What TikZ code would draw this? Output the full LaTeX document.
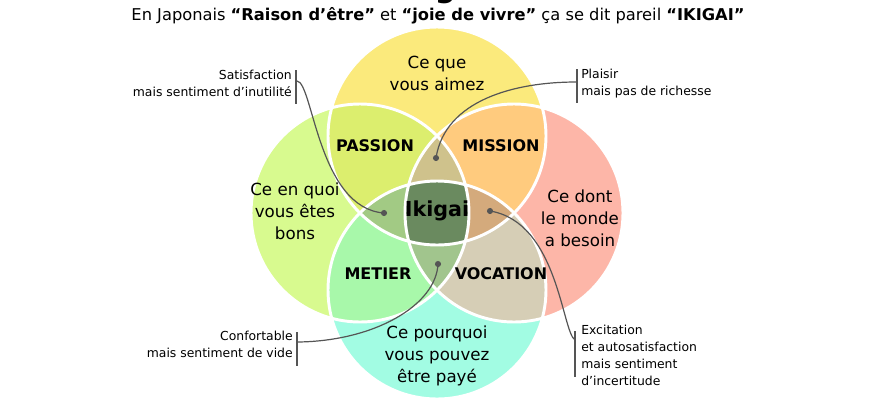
\documentclass[tikz,border=0pt]{standalone}
\usepackage{fontspec}
\setmainfont{DejaVu Sans}
\definecolor{cTop}{HTML}{FBEA7C}
\definecolor{cLeft}{HTML}{D8FA8F}
\definecolor{cRight}{HTML}{FDB6A8}
\definecolor{cBot}{HTML}{A2FCE3}
\definecolor{cPassion}{HTML}{DCEE6E}
\definecolor{cMission}{HTML}{FFCB7E}
\definecolor{cMetier}{HTML}{A8F8AA}
\definecolor{cVocation}{HTML}{D6CEB6}
\definecolor{cTLR}{HTML}{CFC28C}
\definecolor{cTLB}{HTML}{A2CA84}
\definecolor{cTRB}{HTML}{D4AA7C}
\definecolor{cLRB}{HTML}{A1C58D}
\definecolor{cIkigai}{HTML}{6A8A5F}
\definecolor{cLine}{HTML}{555555}
\begin{document}
\begin{tikzpicture}[x=0.75pt,y=-0.75pt,
  bigtxt/.style={font=\fontsize{12.5}{16.5}\selectfont,align=center,inner sep=0pt},
  regtxt/.style={font=\fontsize{12}{14}\selectfont\bfseries,inner sep=0pt},
  notetxt/.style={font=\fontsize{9.3}{12.8}\selectfont,inner sep=0pt},
  connector/.style={draw=cLine,line width=0.9pt},
  notebar/.style={draw=cLine,line width=1.6pt},
  dotmark/.style={fill=cLine}]
\def\R{81.75pt}
\useasboundingbox[fill=white] (0,0) rectangle (875,401);
\coordinate (T) at (437,136);
\coordinate (L) at (360,213);
\coordinate (Ri) at (514,213);
\coordinate (B) at (437,290);
% base circles
\fill[cTop] (T) circle[radius=\R];
\fill[cLeft] (L) circle[radius=\R];
\fill[cRight] (Ri) circle[radius=\R];
\fill[cBot] (B) circle[radius=\R];
% pairs
\begin{scope}\clip (T) circle[radius=\R]; \fill[cPassion] (L) circle[radius=\R]; \end{scope}
\begin{scope}\clip (T) circle[radius=\R]; \fill[cMission] (Ri) circle[radius=\R]; \end{scope}
\begin{scope}\clip (B) circle[radius=\R]; \fill[cMetier] (L) circle[radius=\R]; \end{scope}
\begin{scope}\clip (B) circle[radius=\R]; \fill[cVocation] (Ri) circle[radius=\R]; \end{scope}
% triples
\begin{scope}\clip (T) circle[radius=\R]; \clip (L) circle[radius=\R]; \fill[cTLR] (Ri) circle[radius=\R]; \end{scope}
\begin{scope}\clip (T) circle[radius=\R]; \clip (L) circle[radius=\R]; \fill[cTLB] (B) circle[radius=\R]; \end{scope}
\begin{scope}\clip (T) circle[radius=\R]; \clip (Ri) circle[radius=\R]; \fill[cTRB] (B) circle[radius=\R]; \end{scope}
\begin{scope}\clip (B) circle[radius=\R]; \clip (L) circle[radius=\R]; \fill[cLRB] (Ri) circle[radius=\R]; \end{scope}
% all four
\begin{scope}\clip (T) circle[radius=\R]; \clip (L) circle[radius=\R]; \clip (Ri) circle[radius=\R]; \fill[cIkigai] (B) circle[radius=\R]; \end{scope}
% white outlines
\foreach \c in {T,L,Ri,B} \draw[white,line width=2.2pt] (\c) circle[radius=\R];
% titles
\node[font=\fontsize{22}{24}\selectfont\bfseries,anchor=base,inner sep=0pt] (maintitle) at (440,-3) {Ikigai};
\node[font=\fontsize{12.2}{14}\selectfont,anchor=base,inner sep=0pt] (subtitle) at (438,20)
  {En Japonais \textbf{“Raison d’être”} et \textbf{“joie de vivre”} ça se dit pareil \textbf{“IKIGAI”}};
% circle labels
\node[bigtxt] (aimez) at (437,73) {Ce que\\vous aimez};
\node[bigtxt] (bons) at (295,211) {Ce en quoi\\vous êtes\\bons};
\node[bigtxt] (besoin) at (580,218) {Ce dont\\le monde\\a besoin};
\node[bigtxt] (paye) at (437,356) {Ce pourquoi\\vous pouvez\\être payé};
% region labels
\node[regtxt] (passion) at (375,146) {PASSION};
\node[regtxt] (mission) at (501,146) {MISSION};
\node[regtxt] (metier) at (378,274) {METIER};
\node[regtxt] (vocation) at (501,274) {VOCATION};
\node[font=\fontsize{15.5}{17}\selectfont\bfseries,inner sep=0pt] (ikigai) at (437,211) {Ikigai};
% notes
\node[notetxt,align=right,anchor=north east] (n1) at (292,70) {Satisfaction\\mais sentiment d’inutilité};
\draw[notebar] (296,70) -- (296,104);
\node[notetxt,align=left,anchor=north west] (n2) at (581,69) {Plaisir\\mais pas de richesse};
\draw[notebar] (577,69) -- (577,103);
\node[notetxt,align=right,anchor=north east] (n3) at (293,331) {Confortable\\mais sentiment de vide};
\draw[notebar] (297,332) -- (297,366);
\node[notetxt,align=left,anchor=north west] (n4) at (581,325) {Excitation\\et autosatisfaction\\mais sentiment\\d’incertitude};
\draw[notebar] (575,331) -- (575,377);
% connector anchors
\coordinate (s1) at (297,81);
\coordinate (d1) at (384,213);
\coordinate (s2) at (576,82);
\coordinate (d2) at (436,158);
\coordinate (s3) at (298,342);
\coordinate (d3) at (438,264);
\coordinate (s4) at (575,340);
\coordinate (d4) at (490,211);
\draw[connector] (s1) .. controls (313,82) and (318,208) .. (d1);
\draw[connector] (s2) .. controls (515,82) and (445,100) .. (d2);
\draw[connector] (s3) .. controls (375,341) and (436,305) .. (d3);
\draw[connector] (s4) .. controls (562,332) and (558,222) .. (d4);
\foreach \d in {d1,d2,d3,d4} \fill[dotmark] (\d) circle[radius=2.3pt];
\end{tikzpicture}
\end{document}
